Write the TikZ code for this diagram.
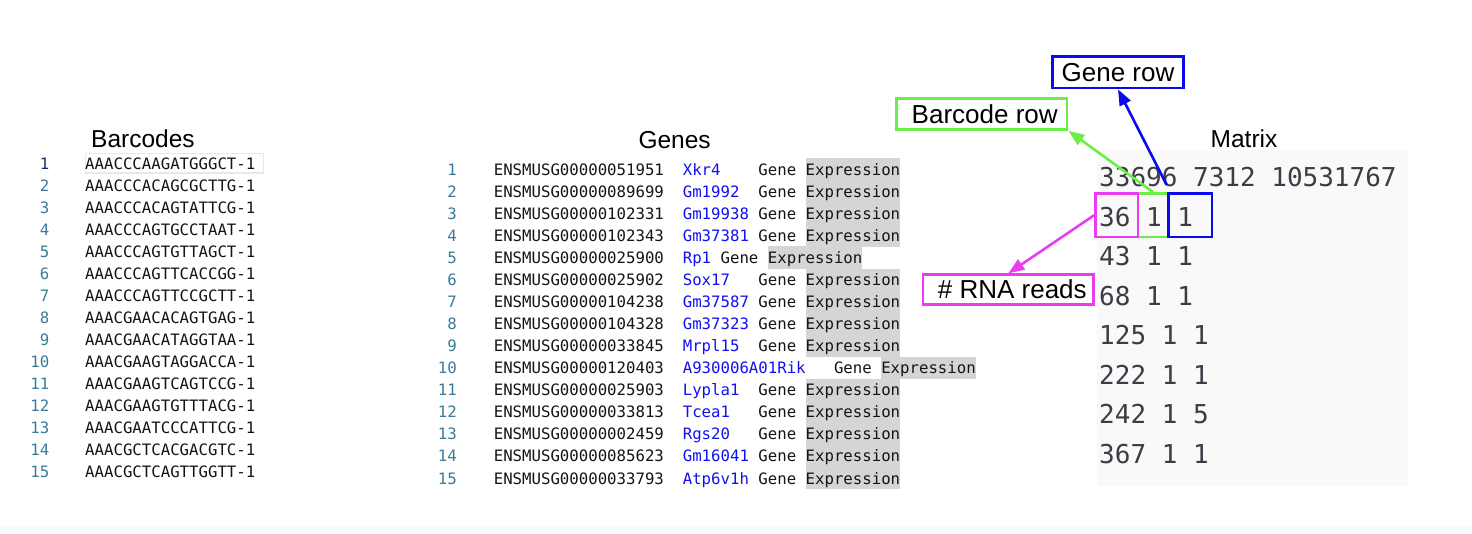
\documentclass[tikz,border=0pt]{standalone}
\usepackage{fontspec}
\setmainfont{Liberation Sans}
\newfontfamily\monof{DejaVu Sans Mono}
\usetikzlibrary{arrows.meta}
\definecolor{textblack}{HTML}{141414}
\definecolor{numblue}{HTML}{3A7A98}
\definecolor{numdark}{HTML}{1C2B6B}
\definecolor{geneblue}{HTML}{1010F0}
\definecolor{exprgray}{HTML}{D5D5D5}
\definecolor{matgray}{HTML}{3C3C46}
\definecolor{panelbg}{HTML}{F9F9F9}
\definecolor{bandbg}{HTML}{F8F9FB}
\definecolor{hlgray}{HTML}{E8E8E8}
\definecolor{lblmag}{HTML}{EA3CF0}
\definecolor{lblgreen}{HTML}{6CEE48}
\definecolor{lblblue}{HTML}{0A0AEE}
\tikzset{
  mono/.style={font=\monof\fontsize{15.7}{18}\selectfont, inner sep=0pt, anchor=west,
    text height=11.45pt, text depth=0pt, text=textblack},
  lnum/.style={mono, anchor=east, text=numblue},
  gname/.style={mono, text=geneblue},
  expr/.style={mono, fill=exprgray, minimum height=22.2pt},
  titletext/.style={font=\fontsize{24.5}{28}\selectfont, inner sep=0pt,
    text height=17.5pt, text depth=0pt, text=black},
  mat/.style={font=\monof\fontsize{26}{30}\selectfont, inner sep=0pt, anchor=west,
    text height=18.95pt, text depth=0pt, text=matgray},
  hlbox/.style={draw, line width=2.6pt, inner sep=0pt, minimum height=43.4pt},
  lbl/.style={draw, line width=2.6pt, fill=white, inner sep=0pt,
    font=\fontsize{26}{30}\selectfont, text height=18.6pt, text depth=0pt, text=black},
  arr/.style={line width=2.6pt, -{Triangle[length=16pt,width=12pt]}},
}
\begin{document}
\begin{tikzpicture}[x=1pt,y=-1pt]
\useasboundingbox (0,0) rectangle (1472,534);
\fill[bandbg] (0,525.7) rectangle (1472,534);

% ---------- Barcodes ----------
\node[titletext] (tbar) at (143,139) {Barcodes};
\node[draw=hlgray, line width=1.4pt, inner sep=0pt, minimum width=178pt, minimum height=19.4pt, anchor=west] (hl1) at (85,163.3) {};
\node[lnum, text=numdark] (bn1) at (49.5,163.3) {1};
\node[mono] (bc1) at (85,163.3) {AAACCCAAGATGGGCT-1};
\foreach \s [count=\i from 2] in {AAACCCACAGCGCTTG-1,AAACCCACAGTATTCG-1,AAACCCAGTGCCTAAT-1,
  AAACCCAGTGTTAGCT-1,AAACCCAGTTCACCGG-1,AAACCCAGTTCCGCTT-1,AAACGAACACAGTGAG-1,
  AAACGAACATAGGTAA-1,AAACGAAGTAGGACCA-1,AAACGAAGTCAGTCCG-1,AAACGAAGTGTTTACG-1,
  AAACGAATCCCATTCG-1,AAACGCTCACGACGTC-1,AAACGCTCAGTTGGTT-1} {
  \pgfmathsetmacro\yy{163.3+22.03*(\i-1)}
  \node[lnum] (bn\i) at (49.5,\yy) {\i};
  \node[mono] (bc\i) at (85,\yy) {\s};
}

% ---------- Genes ----------
\node[titletext] (tgen) at (674.6,140) {Genes};
\foreach \id/\gn/\gc/\ec [count=\i] in {
  ENSMUSG00000051951/Xkr4/28/33, ENSMUSG00000089699/Gm1992/28/33,
  ENSMUSG00000102331/Gm19938/28/33, ENSMUSG00000102343/Gm37381/28/33,
  ENSMUSG00000025900/Rp1/24/29, ENSMUSG00000025902/Sox17/28/33,
  ENSMUSG00000104238/Gm37587/28/33, ENSMUSG00000104328/Gm37323/28/33,
  ENSMUSG00000033845/Mrpl15/28/33, ENSMUSG00000120403/A930006A01Rik/36/41,
  ENSMUSG00000025903/Lypla1/28/33, ENSMUSG00000033813/Tcea1/28/33,
  ENSMUSG00000002459/Rgs20/28/33, ENSMUSG00000085623/Gm16041/28/33,
  ENSMUSG00000033793/Atp6v1h/28/33} {
  \pgfmathsetmacro\yy{169.3+22.07*(\i-1)}
  \pgfmathsetmacro\xn{493.6+20*9.45}
  \pgfmathsetmacro\xg{493.6+\gc*9.45}
  \pgfmathsetmacro\xe{493.6+\ec*9.45}
  \node[expr] (ge\i) at (\xe,\yy) {Expression};
  \node[lnum] (gn\i) at (457,\yy) {\i};
  \node[mono] (gi\i) at (493.6,\yy) {\id};
  \node[gname] (gs\i) at (\xn,\yy) {\gn};
  \node[mono] (gw\i) at (\xg,\yy) {Gene};
}

% ---------- Matrix ----------
\node[fill=panelbg, inner sep=0pt, minimum width=311pt, minimum height=336pt] (panel) at (1252.5,318) {};
\node[titletext] (tmat) at (1244,139) {Matrix};
\foreach \r [count=\k from 0] in {33696 7312 10531767, 36 1 1, 43 1 1, 68 1 1,
  125 1 1, 222 1 1, 242 1 5, 367 1 1} {
  \pgfmathsetmacro\yy{177.5+39.5*\k}
  \node[mat] (m\k) at (1099,\yy) {\r};
}
\node[hlbox, draw=lblgreen, minimum width=30.6pt] (grnbox) at (1153.3,215.3) {};
\node[hlbox, draw=lblmag, minimum width=42.7pt] (magbox) at (1116.7,215.3) {};
\node[hlbox, draw=lblblue, minimum width=43.4pt] (blubox) at (1190.3,215.3) {};

% ---------- Labels ----------
\node[lbl, draw=lblblue, minimum width=131.4pt, minimum height=31.7pt] (generow) at (1118,72.2) {Gene row};
\node[lbl, draw=lblgreen, minimum width=170.7pt, minimum height=30.8pt] (barcoderow) at (981.7,114) {\hspace*{6pt}Barcode row};
\node[lbl, draw=lblmag, minimum width=170.7pt, minimum height=30.1pt] (rnareads) at (1008.3,289.7) {\hspace*{8pt}\# RNA reads};

\coordinate (bstart) at (1166.7,185);
\draw[arr, lblblue] (bstart) -- (generow.south);
\draw[arr, lblgreen] (grnbox.north) -- (barcoderow.south east);
\draw[arr, lblmag] (magbox.west) -- (rnareads.north);
\end{tikzpicture}
\end{document}
